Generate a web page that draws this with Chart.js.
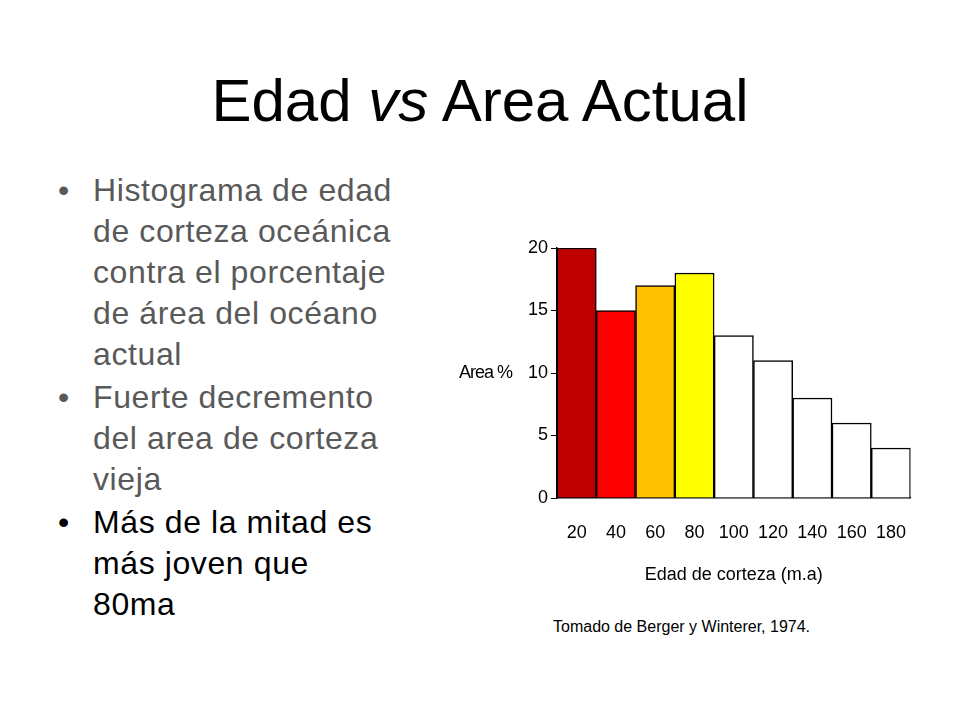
<!DOCTYPE html>
<html><head><meta charset="utf-8">
<script src="https://cdn.jsdelivr.net/npm/chart.js"></script>
<style>
body{margin:0;width:960px;height:720px;background:#fff;position:relative;font-family:"Liberation Sans",Arial,sans-serif;overflow:hidden}
#title{position:absolute;left:0;width:960px;top:66px;text-align:center;font-size:60px;color:#000}
ul{position:absolute;left:58px;top:170px;margin:0;padding:0;list-style:none;font-size:32px;line-height:41px;letter-spacing:0.6px}
li{position:relative;padding-left:35px;margin-bottom:2px}
li:before{content:"•";position:absolute;left:0}
.g{color:#595959}
#cw{position:absolute;left:440px;top:230px;width:482px;height:360px}
#ya{position:absolute;left:459px;top:362px;font-size:18px;letter-spacing:-1px}
#src{position:absolute;left:553px;top:618px;font-size:16px;color:#000}
</style></head><body>
<div id="title">Edad <i>vs</i> Area Actual</div>
<ul>
<li class="g">Histograma de edad<br>de corteza oceánica<br>contra el porcentaje<br>de área del océano<br>actual</li>
<li class="g">Fuerte decremento<br>del area de corteza<br>vieja</li>
<li>Más de la mitad es<br>más joven que<br>80ma</li>
</ul>
<div id="cw"><canvas id="c"></canvas></div>
<div id="ya">Area %</div>
<div id="src">Tomado de Berger y Winterer, 1974.</div>
<script>
const categories=["20","40","60","80","100","120","140","160","180"];
const areaPct=[20,15,17,18,13,11,8,6,4];
const barColors=["#C00000","#FF0000","#FFC000","#FFFF00","#FFFFFF","#FFFFFF","#FFFFFF","#FFFFFF","#FFFFFF"];
const yTicks=[0,5,10,15,20];
const xTitle="Edad de corteza (m.a)";
new Chart(document.getElementById('c'),{
 type:'bar',
 data:{labels:categories,datasets:[{data:areaPct,backgroundColor:barColors,borderColor:'#000',borderWidth:1.5,categoryPercentage:1,barPercentage:1}]},
 options:{responsive:true,maintainAspectRatio:false,animation:false,
  layout:{padding:{top:18,right:1,left:0,bottom:0}},
  plugins:{legend:{display:false},tooltip:{enabled:false}},
  scales:{
   y:{min:0,max:20,afterBuildTicks:s=>{s.ticks=yTicks.map(v=>({value:v}))},
     afterFit:s=>{s.width=117},
     grid:{display:true,drawOnChartArea:false,drawTicks:true,tickLength:6,color:'#000'},
     border:{color:'#000',width:1.5},
     ticks:{color:'#000',font:{family:'Liberation Sans',size:18},padding:3}},
   x:{afterFit:s=>{s.height=92},
     grid:{display:false},border:{color:'#000',width:1.5},
     ticks:{color:'#000',font:{family:'Liberation Sans',size:18},padding:16,maxRotation:0},
     title:{display:true,text:xTitle,color:'#000',font:{family:'Liberation Sans',size:18},padding:{top:10}}}
  }}
});
</script></body></html>
